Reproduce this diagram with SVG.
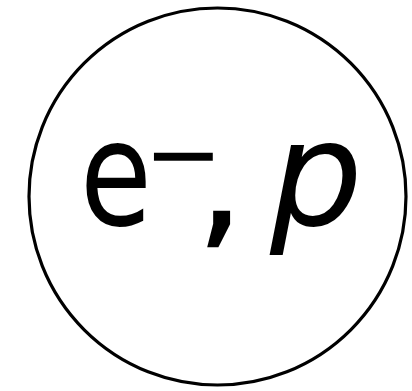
<svg xmlns="http://www.w3.org/2000/svg" width="412" height="391" viewBox="0 0 412 391">
<style>
.lbl{font-family:"DejaVu Sans",sans-serif;fill:#000}
</style>
<rect width="412" height="391" fill="#fff"/>
<g id="node1">
<circle cx="217.5" cy="196.5" r="188.5" fill="#fff" stroke="#000" stroke-width="3.2"/>
<text class="lbl" font-size="146" transform="translate(80,225) scale(0.8,1)">e</text>
<text class="lbl" x="144" y="186" font-size="94">−</text>
<text class="lbl" x="198" y="230" font-size="140" stroke="#000" stroke-width="2.5">,</text>
<text class="lbl" x="270" y="225" font-size="146" font-style="italic">p</text>
</g>
</svg>
